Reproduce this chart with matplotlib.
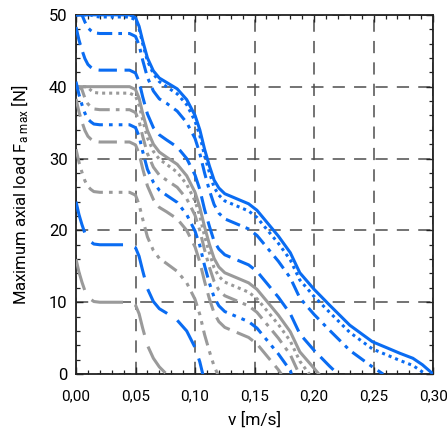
import matplotlib
matplotlib.use("Agg")
import matplotlib.pyplot as plt
from matplotlib.ticker import MultipleLocator, FuncFormatter

plt.rcParams['font.family'] = ['Roboto', 'DejaVu Sans']
plt.rcParams['mathtext.fontset'] = 'custom'
plt.rcParams['mathtext.rm'] = 'Roboto'
plt.rcParams['mathtext.it'] = 'Roboto'

# shared speed grid [m/s]
v_grid = [0.0, 0.0025, 0.005, 0.0075, 0.01, 0.0125, 0.015, 0.02, 0.045, 0.05,
          0.053, 0.056, 0.06, 0.065, 0.07, 0.076, 0.085, 0.093, 0.1, 0.104,
          0.108, 0.112, 0.116, 0.12, 0.125, 0.135, 0.145, 0.152, 0.16, 0.17,
          0.18, 0.188, 0.2, 0.213, 0.23, 0.249, 0.262, 0.272, 0.283, 0.291, 0.3]

# blue family (max 50 N)
blue_solid = [50, 50, 50, 50, 50, 50, 50, 50, 50, 49.6, 48.4, 46.4, 44.0, 42.2, 41.2, 40.6, 39.7,
              38.2, 36.0, 34.0, 31.3, 29.0, 27.0, 25.9, 25.1, 24.4, 23.7, 22.8, 21.2, 19.2, 16.9,
              14.1, 11.8, 9.6, 6.8, 4.5, 3.6, 2.9, 2.2, 1.3, 0]
blue_dotted = [50, 50, 50, 50, 50, 50, 49.8, 49.7, 49.7, 49.3, 48.1, 46.0, 43.6, 41.8, 40.7, 40.0,
               39.0, 37.5, 35.2, 33.2, 30.4, 28.1, 26.0, 24.9, 24.1, 23.4, 22.7, 21.8, 20.2, 18.2,
               15.9, 13.1, 10.8, 8.6, 5.8, 3.5, 2.6, 1.9, 1.2, 0.3]
blue_dashdot = [50, 50, 50, 49.0, 48.2, 47.8, 47.5, 47.4, 47.4, 47.0, 45.8, 43.7, 41.3, 39.4, 38.3,
                37.7, 36.6, 35.0, 32.8, 30.7, 28.0, 25.6, 23.6, 22.4, 21.6, 20.9, 20.2, 19.3, 17.7,
                15.7, 13.4, 10.6, 8.3, 6.1, 3.3, 1.0]
blue_dash = [48.3, 46.5, 45.1, 43.9, 43.1, 42.7, 42.4, 42.3, 42.3, 41.9, 40.7, 38.6, 36.2, 34.3,
             33.3, 32.6, 31.6, 30.0, 27.7, 25.7, 22.9, 20.6, 18.5, 17.4, 16.6, 15.9, 15.2, 14.3,
             12.7, 10.7, 8.4, 5.6, 3.3, 1.1]
blue_dashdotdot = [40.7, 38.9, 37.5, 36.3, 35.5, 35.1, 34.8, 34.7, 34.7, 34.3, 33.1, 31.0, 28.5,
                   26.7, 25.6, 24.9, 23.9, 22.2, 19.9, 17.9, 15.1, 12.7, 10.7, 9.5, 8.7, 8.0, 7.3,
                   6.4, 4.8, 2.8, 0.5]
blue_longdash = [24.0, 22.2, 20.8, 19.6, 18.8, 18.4, 18.1, 18.0, 18.0, 17.6, 16.4, 14.4, 11.9,
                 10.1, 9.1, 8.5, 7.5, 6.0, 3.7, 1.7]

# grey family (max 40 N)
gray_solid = [40, 40, 40, 40, 40, 40, 40, 40, 40, 39.6, 38.4, 36.3, 33.9, 32.0, 30.9, 30.2, 29.2,
              27.6, 25.3, 23.2, 20.5, 18.1, 16.1, 14.9, 14.1, 13.4, 12.7, 11.8, 10.2, 8.2, 5.9,
              3.1, 0.8]
gray_dotted = [40, 40, 40, 40, 39.9, 39.5, 39.2, 39.1, 39.1, 38.7, 37.4, 35.4, 32.9, 31.0, 29.9,
               29.2, 28.1, 26.4, 24.1, 22.0, 19.2, 16.9, 14.8, 13.6, 12.8, 12.1, 11.4, 10.5, 8.9,
               6.9, 4.6, 1.8]
gray_dash = [40, 40, 39.6, 38.4, 37.6, 37.2, 36.9, 36.8, 36.8, 36.4, 35.2, 33.1, 30.7, 28.8, 27.7,
             27.0, 26.0, 24.4, 22.1, 20.0, 17.3, 14.9, 12.9, 11.7, 10.9, 10.2, 9.5, 8.6, 7.0, 5.0,
             2.7]
gray_dashdot = [38.3, 36.5, 35.1, 33.9, 33.1, 32.7, 32.4, 32.3, 32.3, 31.9, 30.7, 28.6, 26.2, 24.3,
                23.2, 22.6, 21.6, 20.0, 17.7, 15.6, 12.9, 10.5, 8.5, 7.3, 6.5, 5.8, 5.1, 4.2, 2.6,
                0.6]
gray_dashdotdot = [31.3, 29.5, 28.1, 26.9, 26.1, 25.7, 25.4, 25.3, 25.3, 24.9, 23.6, 21.6, 19.1,
                   17.2, 16.1, 15.4, 14.3, 12.7, 10.4, 8.3, 5.5, 3.2, 1.1]
gray_longdash = [16.0, 14.2, 12.8, 11.6, 10.8, 10.4, 10.1, 10.0, 10.0, 9.6, 8.4, 6.4, 4.0, 2.2, 1.0]

# speed where each curve reaches 0 N
blue_ends = [0.3, 0.294, 0.258, 0.22, 0.181, 0.1065]
gray_ends = [0.204, 0.196, 0.1875, 0.1725, 0.119, 0.076]

estilos = [
    '-',
    (0, (1.0, 1.3)),
    (0, (5, 2, 1.2, 2)),
    (0, (6, 2.5)),
    (0, (5, 2, 1.2, 2, 1.2, 2)),
    (0, (10.5, 4)),
]

azul = '#0a6cf2'
gris = '#9a9a9a'


def curva(valores, fin):
    v = v_grid[:len(valores)]
    f = list(valores)
    if v[-1] < fin:
        v = v + [fin]
        f = f + [0]
    return v, f


fig = plt.figure(figsize=(4.47, 4.36), dpi=100)
ax = fig.add_axes([0.170, 0.142, 0.799, 0.824])

grises = [gray_solid, gray_dotted, gray_dash, gray_dashdot, gray_dashdotdot, gray_longdash]
azules = [blue_solid, blue_dotted, blue_dashdot, blue_dash, blue_dashdotdot, blue_longdash]

for datos, fin, ls in zip(grises, gray_ends, estilos):
    v, f = curva(datos, fin)
    ax.plot(v, f, color=gris, lw=2.2, linestyle=ls, zorder=3)

for datos, fin, ls in zip(azules, blue_ends, estilos):
    v, f = curva(datos, fin)
    ax.plot(v, f, color=azul, lw=2.2, linestyle=ls, zorder=4)

ax.set_xlim(0, 0.30)
ax.set_ylim(0, 50)
ax.xaxis.set_major_locator(MultipleLocator(0.05))
ax.xaxis.set_minor_locator(MultipleLocator(0.01))
ax.yaxis.set_major_locator(MultipleLocator(10))
ax.yaxis.set_minor_locator(MultipleLocator(2))
ax.xaxis.set_major_formatter(FuncFormatter(lambda x, p: f"{x:.2f}".replace('.', ',')))
ax.yaxis.set_major_formatter(FuncFormatter(lambda y, p: f"{y:.0f}"))

ax.tick_params(which='both', direction='in', top=True, right=True, labelsize=12, color='#222222')
ax.tick_params(which='major', length=5, width=1)
ax.tick_params(which='minor', length=3, width=0.9)
ax.tick_params(axis='x', pad=11, labelsize=11)
ax.tick_params(axis='y', pad=6)

ax.grid(True, which='major', color='#4d4d4d', lw=1.1, linestyle=(0, (8, 6)), zorder=1)
ax.set_axisbelow(True)
for s in ax.spines.values():
    s.set_linewidth(1.3)
    s.set_color('#222222')

ax.set_xlabel('v [m/s]', fontsize=12.5, labelpad=6)
ax.set_ylabel(r'Maximum axial load F$_{\mathrm{a\ max}}$ [N]', fontsize=12, labelpad=13)

fig.savefig('out.png', dpi=100)
